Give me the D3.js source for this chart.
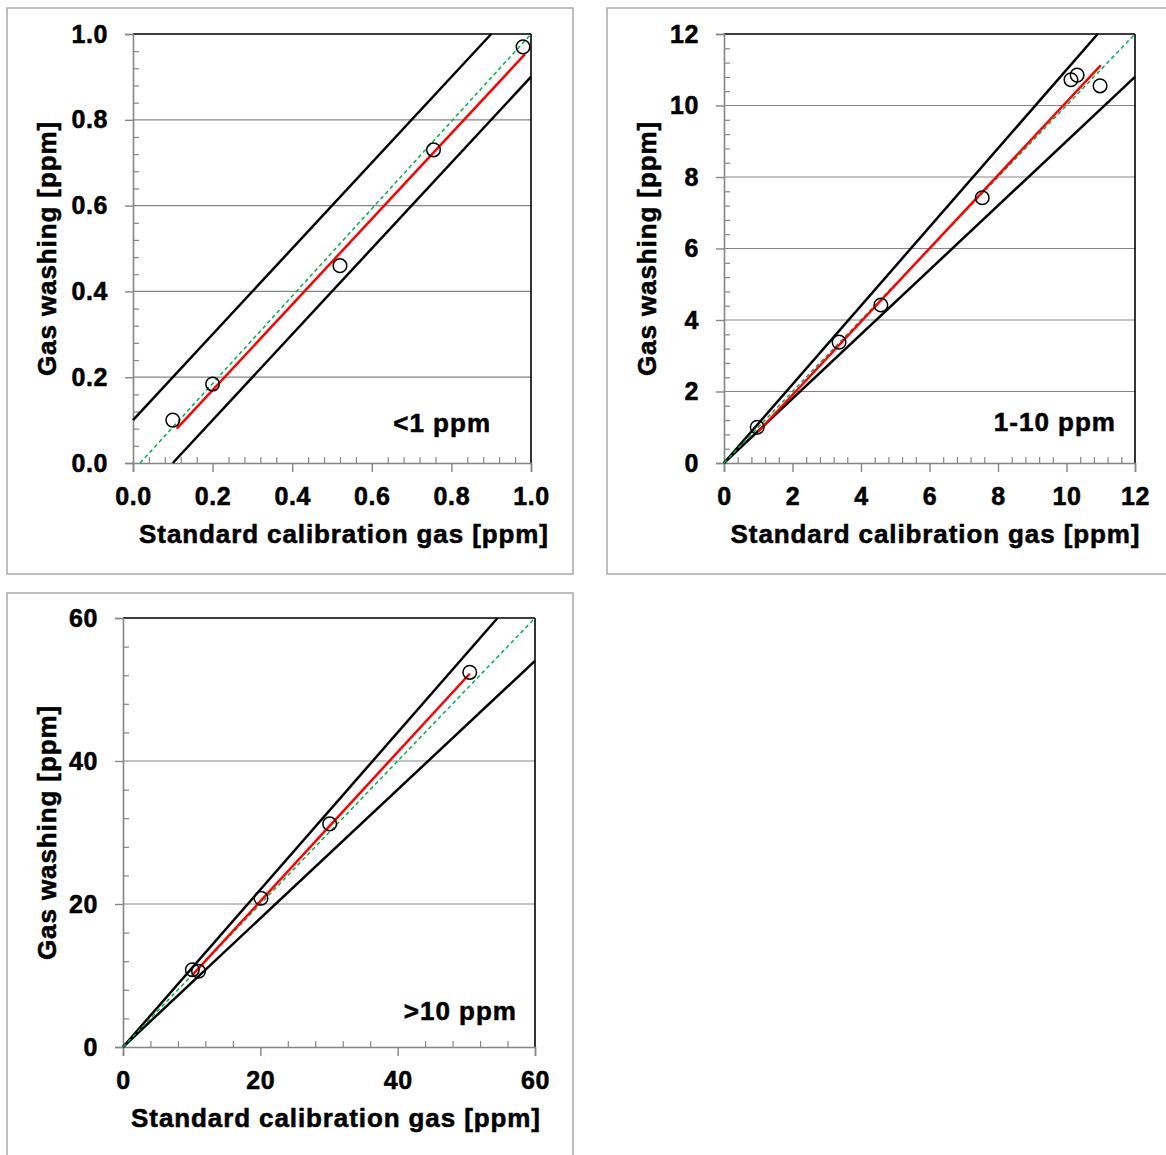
<!DOCTYPE html>
<html>
<head>
<meta charset="utf-8">
<script src="https://cdn.jsdelivr.net/npm/d3@7"></script>
<style>
  html, body { margin: 0; padding: 0; background: #ffffff; }
  svg { display: block; }
  text { font-family: "Liberation Sans", Arial, Helvetica, sans-serif; font-weight: bold; fill: #000; }
</style>
</head>
<body>
<svg id="chart" width="1166" height="1155"></svg>
<script>
// ---------------- DATA ----------------
const xAxisTitle = "Standard calibration gas [ppm]";
const yAxisTitle = "Gas washing [ppm]";

// Panel 1: <1 ppm
const p1Label = "<1 ppm";
const p1Domain = [0, 1.0];
const p1Ticks = [0, 0.2, 0.4, 0.6, 0.8, 1.0];
const p1MinorTicks = [0.04, 0.08, 0.12, 0.16, 0.24, 0.28, 0.32, 0.36, 0.44, 0.48, 0.52, 0.56, 0.64, 0.68, 0.72, 0.76, 0.84, 0.88, 0.92, 0.96];
const p1TickLabels = ["0.0", "0.2", "0.4", "0.6", "0.8", "1.0"];
const p1PointsX = [0.10, 0.20, 0.52, 0.755, 0.98];
const p1PointsY = [0.10, 0.184, 0.46, 0.73, 0.97];
const p1FitLine = [[0.11, 0.08], [0.985, 0.953]];
const p1UpperBand = [[0, 0.1], [0.9, 1.0]];
const p1LowerBand = [[0.1, 0], [1.0, 0.9]];
const p1RefLine = [[0.018, 0], [1.0, 1.0]];

// Panel 2: 1-10 ppm
const p2Label = "1-10 ppm";
const p2Domain = [0, 12];
const p2Ticks = [0, 2, 4, 6, 8, 10, 12];
const p2MinorTicks = [0.4, 0.8, 1.2, 1.6, 2.4, 2.8, 3.2, 3.6, 4.4, 4.8, 5.2, 5.6, 6.4, 6.8, 7.2, 7.6, 8.4, 8.8, 9.2, 9.6, 10.4, 10.8, 11.2, 11.6];
const p2TickLabels = ["0", "2", "4", "6", "8", "10", "12"];
const p2PointsX = [0.97, 3.36, 4.58, 7.54, 10.13, 10.31, 10.98];
const p2PointsY = [1.0, 3.38, 4.42, 7.42, 10.72, 10.85, 10.55];
const p2FitLine = [[1.0, 0.88], [11.0, 11.12]];
const p2UpperBand = [[0, 0], [10.91, 12]];
const p2LowerBand = [[0, 0], [12, 10.8]];
const p2RefLine = [[0, 0], [12, 12]];

// Panel 3: >10 ppm
const p3Label = ">10 ppm";
const p3Domain = [0, 60];
const p3Ticks = [0, 20, 40, 60];
const p3MinorTicks = [4, 8, 12, 16, 24, 28, 32, 36, 44, 48, 52, 56];
const p3TickLabels = ["0", "20", "40", "60"];
const p3PointsX = [10.1, 11.0, 20.1, 30.1, 50.5];
const p3PointsY = [10.8, 10.6, 20.8, 31.2, 52.4];
const p3FitLine = [[10.1, 10.05], [50.5, 52.2]];
const p3UpperBand = [[0, 0], [54.55, 60]];
const p3LowerBand = [[0, 0], [60, 54]];
const p3RefLine = [[0, 0], [60, 60]];

// ---------------- DRAW ----------------
const svg = d3.select("#chart");

function boldText(sel, size, spacing) {
  sel.style("font-family", "'Liberation Sans', Arial, sans-serif")
    .style("font-weight", "bold")
    .style("font-size", size + "px")
    .style("letter-spacing", spacing + "px")
    .attr("fill", "#000")
    .attr("stroke", "#000")
    .attr("stroke-width", 0.55);
}

function drawPanel(cfg) {
  const g = svg.append("g");
  const f = cfg.frame;
  // panel frame
  g.append("rect")
    .attr("x", f[0]).attr("y", f[1])
    .attr("width", f[2] - f[0]).attr("height", f[3] - f[1])
    .attr("fill", "#fff").attr("stroke", "#a9a9a9").attr("stroke-width", 1.5);

  const x = d3.scaleLinear().domain(cfg.domain).range([cfg.left, cfg.right]);
  const y = d3.scaleLinear().domain(cfg.domain).range([cfg.bottom, cfg.top]);
  const fmt = d => cfg.tickLabels[cfg.ticks.indexOf(d)];

  // horizontal gridlines
  g.append("g").selectAll("line")
    .data(cfg.ticks.filter(t => t !== cfg.domain[0] && t !== cfg.domain[1]))
    .join("line")
    .attr("x1", cfg.left).attr("x2", cfg.right)
    .attr("y1", d => y(d)).attr("y2", d => y(d))
    .attr("stroke", "#858585").attr("stroke-width", 1.2);

  // plot-area top and right border
  g.append("line").attr("x1", cfg.left).attr("x2", cfg.right)
    .attr("y1", cfg.top).attr("y2", cfg.top)
    .attr("stroke", "#3c3c3c").attr("stroke-width", 2);
  g.append("line").attr("x1", cfg.right).attr("x2", cfg.right)
    .attr("y1", cfg.top).attr("y2", cfg.bottom)
    .attr("stroke", "#000").attr("stroke-width", 1.6);

  // Minor ticks (inward)
  const yMinor = g.append("g").attr("transform", `translate(${cfg.left},0)`)
    .call(d3.axisRight(y).tickValues(cfg.minor).tickSize(6).tickFormat(""));
  const xMinor = g.append("g").attr("transform", `translate(0,${cfg.bottom})`)
    .call(d3.axisTop(x).tickValues(cfg.minor).tickSize(6).tickFormat(""));
  [yMinor, xMinor].forEach(a => {
    a.select(".domain").remove();
    a.selectAll("line").attr("stroke", "#858585").attr("stroke-width", 1.2);
  });

  // Major axes (outward ticks)
  const yAx = g.append("g").attr("transform", `translate(${cfg.left},0)`)
    .call(d3.axisLeft(y).tickValues(cfg.ticks).tickSize(8).tickPadding(17).tickFormat(fmt));
  const xAx = g.append("g").attr("transform", `translate(0,${cfg.bottom})`)
    .call(d3.axisBottom(x).tickValues(cfg.ticks).tickSize(9).tickPadding(15).tickFormat(fmt));
  [yAx, xAx].forEach(a => {
    a.select(".domain").attr("stroke", "#858585").attr("stroke-width", 1.6);
    a.selectAll(".tick line").attr("stroke", "#858585").attr("stroke-width", 1.4);
    boldText(a.selectAll(".tick text"), 25, 0.6);
  });

  const line = d3.line().x(d => x(d[0])).y(d => y(d[1]));

  // tolerance band lines
  [cfg.upper, cfg.lower].forEach(seg => {
    g.append("path").datum(seg).attr("d", line)
      .attr("fill", "none").attr("stroke", "#000").attr("stroke-width", 2.5);
  });
  // reference (green dashed)
  g.append("path").datum(cfg.ref).attr("d", line)
    .attr("fill", "none").attr("stroke", "#00b050").attr("stroke-width", 1.5)
    .attr("stroke-dasharray", "4,3");
  // fit (red)
  g.append("path").datum(cfg.fit).attr("d", line)
    .attr("fill", "none").attr("stroke", "#ff0000").attr("stroke-width", 2.5);

  // points
  const pts = cfg.px.map((v, i) => [v, cfg.py[i]]);
  g.append("g").selectAll("circle").data(pts).join("circle")
    .attr("cx", d => x(d[0])).attr("cy", d => y(d[1])).attr("r", 6.8)
    .attr("fill", "none").attr("stroke", "#000").attr("stroke-width", 1.5);

  // annotation label
  boldText(g.append("text").attr("x", cfg.labelX).attr("y", cfg.labelY)
    .attr("text-anchor", "end").text(cfg.label), 26, 1);

  // axis titles
  boldText(g.append("text")
    .attr("x", (cfg.left + cfg.right) / 2 + cfg.xTitleShift).attr("y", cfg.bottom + 80)
    .attr("text-anchor", "middle")
    .text(xAxisTitle), 26, 0.9);
  boldText(g.append("text")
    .attr("transform", `translate(${f[0] + 49},${(cfg.top + cfg.bottom) / 2}) rotate(-90)`)
    .attr("text-anchor", "middle")
    .text(yAxisTitle), 26, 0.9);
}

drawPanel({
  frame: [7, 8, 573, 574], left: 133, right: 531, top: 34, bottom: 463,
  domain: p1Domain, ticks: p1Ticks, minor: p1MinorTicks, tickLabels: p1TickLabels,
  px: p1PointsX, py: p1PointsY, fit: p1FitLine, upper: p1UpperBand, lower: p1LowerBand, ref: p1RefLine,
  label: p1Label, labelX: 491, labelY: 432, xTitleShift: 12
});
drawPanel({
  frame: [607, 8, 1172, 574], left: 724, right: 1135, top: 34, bottom: 463,
  domain: p2Domain, ticks: p2Ticks, minor: p2MinorTicks, tickLabels: p2TickLabels,
  px: p2PointsX, py: p2PointsY, fit: p2FitLine, upper: p2UpperBand, lower: p2LowerBand, ref: p2RefLine,
  label: p2Label, labelX: 1116, labelY: 431, xTitleShift: 6
});
drawPanel({
  frame: [7, 593, 573, 1162], left: 123, right: 535, top: 618, bottom: 1047,
  domain: p3Domain, ticks: p3Ticks, minor: p3MinorTicks, tickLabels: p3TickLabels,
  px: p3PointsX, py: p3PointsY, fit: p3FitLine, upper: p3UpperBand, lower: p3LowerBand, ref: p3RefLine,
  label: p3Label, labelX: 517, labelY: 1020, xTitleShift: 7
});
</script>
</body>
</html>
